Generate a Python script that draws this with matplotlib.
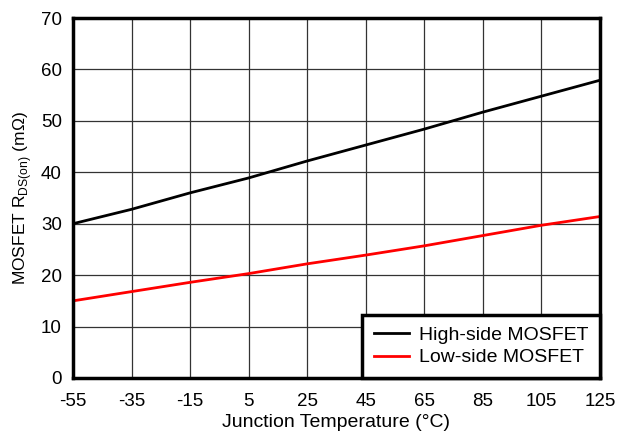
import numpy as np
import matplotlib.pyplot as plt

plt.rcParams['font.family'] = ['Liberation Sans', 'DejaVu Sans']
plt.rcParams['mathtext.fontset'] = 'custom'
plt.rcParams['mathtext.rm'] = 'Liberation Sans'
plt.rcParams['axes.unicode_minus'] = False

temp = [-55, -35, -15, 5, 25, 45, 65, 85, 105, 125]
high_side = [30.0, 32.8, 36.0, 38.9, 42.2, 45.3, 48.4, 51.7, 54.8, 57.9]
low_side = [15.0, 16.8, 18.6, 20.3, 22.2, 23.9, 25.7, 27.7, 29.7, 31.4]

fig = plt.figure(figsize=(6.18, 4.32), dpi=100)
ax = fig.add_axes([73/618, 54/432, 527/618, 360/432])

ax.plot(temp, high_side, color='black', lw=2, label='High-side MOSFET')
ax.plot(temp, low_side, color='red', lw=2, label='Low-side MOSFET')

ax.set_xlim(-55, 125)
ax.set_ylim(0, 70)
ax.set_xticks(np.arange(-55, 126, 20))
ax.set_yticks(np.arange(0, 71, 10))
ax.grid(True, color='#333333', lw=0.9)
ax.tick_params(length=0, labelsize=13.5)
ax.tick_params(axis='x', pad=11)
ax.tick_params(axis='y', pad=8)
for s in ax.spines.values():
    s.set_linewidth(2.5)

ax.set_xlabel('Junction Temperature (°C)', fontsize=14, labelpad=3)
ax.set_ylabel(r'MOSFET R$_\mathregular{DS(on)}$ (m$\Omega$)', fontsize=12.5, labelpad=5)

leg = ax.legend(loc='lower right', fontsize=14, fancybox=False, framealpha=1,
                edgecolor='black', borderaxespad=0, handlelength=1.8,
                borderpad=0.6, labelspacing=0.25, handletextpad=0.5)
leg.get_frame().set_linewidth(2.5)

fig.savefig('out.png', dpi=100)
